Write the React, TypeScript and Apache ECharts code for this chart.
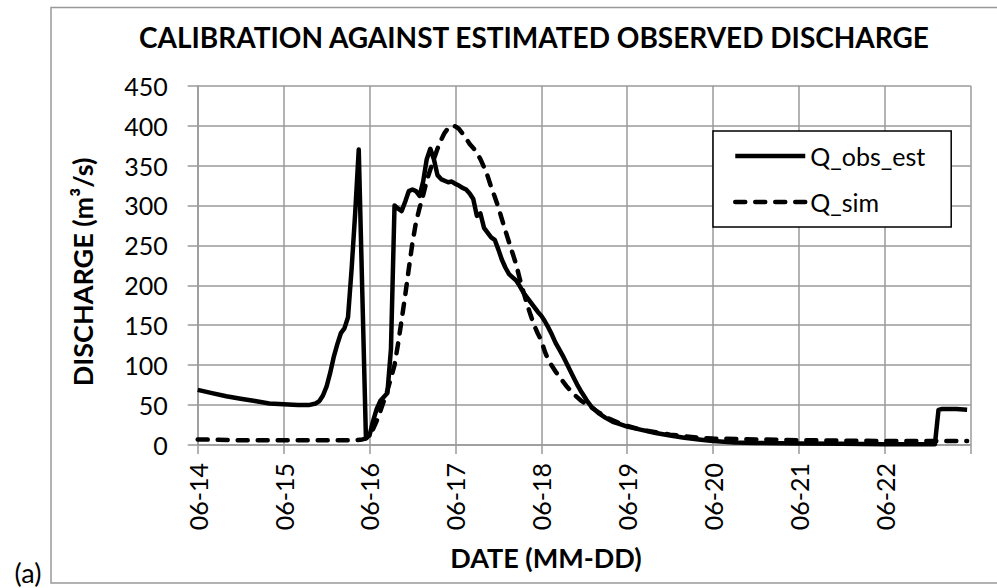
import React, { useEffect, useRef } from "react";
import * as echarts from "echarts";

const titleText = "CALIBRATION AGAINST ESTIMATED OBSERVED DISCHARGE";
const yAxisTitle = "DISCHARGE (m³/s)";
const xAxisTitle = "DATE (MM-DD)";
const panelLabel = "(a)";

const dayLabels = ["06-14", "06-15", "06-16", "06-17", "06-18", "06-19", "06-20", "06-21", "06-22"];
const yTicks = [0, 50, 100, 150, 200, 250, 300, 350, 400, 450];

// hours since 06-14 00:00
const obsHours = [
  0, 4, 8, 12, 16, 20, 24, 28, 31, 33, 34, 35, 36, 37, 38, 39, 40, 41, 42, 43, 44, 45, 46, 47,
  48, 49, 50, 51, 52, 53, 54, 55, 56, 57, 58, 59, 60, 61, 62, 63, 64, 65, 66, 67, 68, 69, 70,
  71, 72, 73, 74, 75, 76, 77, 78, 79, 80, 81, 82, 83, 84, 85, 86, 87, 88, 89, 90, 91, 92, 93,
  94, 95, 96, 97, 98, 99, 100, 101, 102, 103, 104, 105, 106, 107, 108, 109, 110, 111, 112, 114,
  116, 118, 120, 124, 128, 132, 136, 140, 144, 150, 156, 168, 180, 192, 206, 207, 208, 212, 215,
];
const obsValues = [
  69, 65, 61, 58, 55, 52, 51, 50, 50, 52, 55, 62, 73, 90, 110, 126, 140, 146, 160, 220, 290, 370, 190, 10,
  12, 30, 45, 55, 60, 65, 120, 300, 296, 293, 305, 318, 320, 318, 312, 330, 358, 371, 358, 338, 333, 331, 329,
  330, 327, 325, 322, 320, 315, 308, 287, 290, 272, 266, 260, 257, 245, 232, 222, 214, 210, 206, 199, 191, 185, 179,
  173, 167, 162, 155, 147, 138, 128, 120, 112, 103, 94, 85, 76, 68, 61, 54, 48, 44, 40, 34,
  29, 26, 23, 19, 15, 12, 9, 7, 5, 3, 2.5, 2, 1.5, 1, 1, 44, 45, 45, 44,
];

const simHours = [
  0, 12, 24, 36, 44, 46, 47, 48, 49, 50, 51, 52, 53, 54, 55, 56, 57, 58, 59, 60, 61, 62, 63, 64,
  65, 66, 67, 68, 69, 70, 71, 72, 73, 74, 75, 76, 77, 78, 79, 80, 81, 82, 83, 84, 85, 86, 87, 88,
  89, 90, 91, 92, 93, 94, 95, 96, 97, 98, 99, 100, 101, 102, 103, 104, 105, 106, 107, 108, 109,
  110, 112, 114, 116, 118, 120, 124, 128, 132, 136, 140, 144, 156, 168, 192, 215,
];
const simValues = [
  7, 6, 6, 6, 6, 7, 8, 12, 20, 30, 42, 55, 68, 84, 100, 127, 157, 188, 221, 253, 279, 297, 313, 331,
  345, 358, 371, 382, 391, 397, 400, 399, 396, 390, 384, 377, 372, 366, 358, 348, 337, 323, 311, 298, 283, 268, 254, 240,
  226, 208, 192, 177, 163, 150, 140, 131, 117, 106, 99, 92, 86, 80, 74, 69, 64, 60, 56, 53, 50,
  47, 41, 35, 31, 27, 24, 19, 16, 13, 11, 9, 8, 7, 6, 5, 5,
];

const FONT = "Lato";
const GRID = "#9a9a9a";

export default function App() {
  const ref = useRef<HTMLDivElement>(null);

  useEffect(() => {
    if (!ref.current) return;
    const chart = echarts.init(ref.current, null, { renderer: "svg" });
    const obsData = obsHours.map((h, i) => [h, obsValues[i]]);
    const simData = simHours.map((h, i) => [h, simValues[i]]);

    chart.setOption({
      animation: false,
      backgroundColor: "#fff",
      grid: { left: 197.7, right: 26.3, top: 85.7, bottom: 143, containLabel: false },
      legend: {
        orient: "vertical",
        left: 713,
        top: 131,
        padding: [10, 26, 10, 20],
        itemWidth: 70,
        itemHeight: 14,
        itemGap: 16,
        borderColor: "#000",
        borderWidth: 1.5,
        backgroundColor: "#fff",
        itemStyle: { opacity: 0 },
        lineStyle: { width: 4.5 },
        textStyle: { fontFamily: FONT, fontSize: 25, color: "#000", lineHeight: 30 },
        data: ["Q_obs_est", "Q_sim"],
      },
      xAxis: {
        type: "value",
        min: 0,
        max: 216,
        interval: 24,
        axisLine: { show: true, lineStyle: { color: GRID, width: 1.5 } },
        axisTick: { show: true, length: 9, lineStyle: { color: GRID, width: 1.5 } },
        axisLabel: {
          rotate: 90,
          margin: 18,
          fontFamily: FONT,
          fontSize: 25,
          color: "#000",
          formatter: (v: number) => dayLabels[Math.round(v / 24)] ?? "",
        },
        splitLine: { show: true, lineStyle: { color: GRID, width: 1.5 } },
      },
      yAxis: {
        type: "value",
        min: yTicks[0],
        max: yTicks[yTicks.length - 1],
        interval: 50,
        axisLine: { show: true, lineStyle: { color: GRID, width: 1.5 } },
        axisTick: { show: true, length: 10, lineStyle: { color: GRID, width: 1.5 } },
        axisLabel: { margin: 30, fontFamily: FONT, fontSize: 25, color: "#000" },
        splitLine: { show: true, lineStyle: { color: GRID, width: 1.5 } },
      },
      series: [
        {
          name: "Q_obs_est",
          type: "line",
          data: obsData,
          symbol: "none",
          lineStyle: { color: "#000", width: 4.5, join: "round" },
          itemStyle: { color: "#000" },
        },
        {
          name: "Q_sim",
          type: "line",
          data: simData,
          symbol: "none",
          lineStyle: { color: "#000", width: 4.5, type: [10, 10], cap: "round", join: "round" },
          itemStyle: { color: "#000" },
        },
      ],
      graphic: [
        {
          type: "rect",
          shape: { x: 51, y: 7.5, width: 1000, height: 575.5 },
          style: { fill: "none", stroke: "#999", lineWidth: 1.5 },
          silent: true,
          z: -10,
        },
        {
          type: "text",
          x: 534,
          y: 37,
          style: {
            text: titleText,
            fontFamily: FONT,
            fontWeight: "bold",
            fontSize: 28,
            fill: "#000",
            textAlign: "center",
            textVerticalAlign: "middle",
          },
        },
        {
          type: "text",
          x: 82,
          y: 272,
          rotation: Math.PI / 2,
          style: {
            text: yAxisTitle,
            fontFamily: FONT,
            fontWeight: "bold",
            fontSize: 27,
            fill: "#000",
            textAlign: "center",
            textVerticalAlign: "middle",
          },
        },
        {
          type: "text",
          x: 546,
          y: 557,
          style: {
            text: xAxisTitle,
            fontFamily: FONT,
            fontWeight: "bold",
            fontSize: 27,
            fill: "#000",
            textAlign: "center",
            textVerticalAlign: "middle",
          },
        },
        {
          type: "text",
          x: 28,
          y: 572,
          style: {
            text: panelLabel,
            fontFamily: FONT,
            fontSize: 27,
            lineHeight: 28,
            fill: "#000",
            textAlign: "center",
            textVerticalAlign: "middle",
          },
        },
      ],
    });
    return () => chart.dispose();
  }, []);

  return (
    <div
      ref={ref}
      style={{ position: "fixed", left: 0, top: 0, width: 997, height: 588 }}
    />
  );
}
